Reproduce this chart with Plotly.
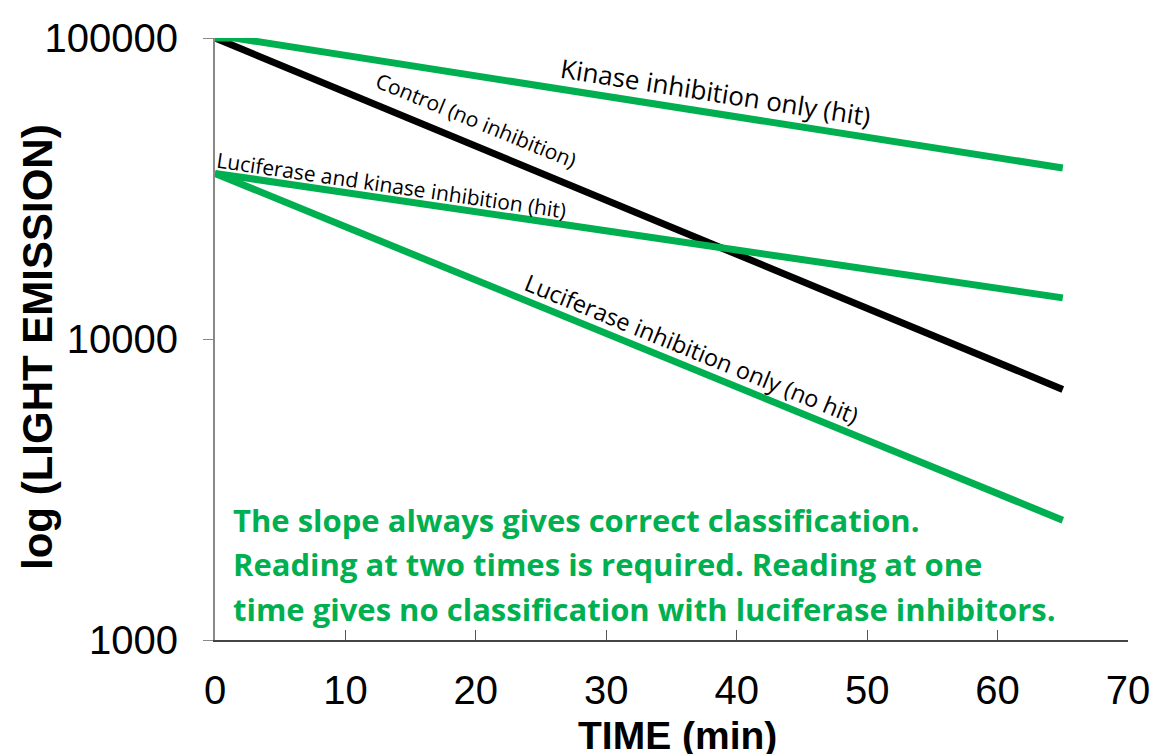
import plotly.graph_objects as go

# Data
time_control = [0, 65]
control = [100000, 6800]
time_kinase = [0, 1.5, 65]
kinase_only = [100000, 100000, 37000]
time_luc_kin = [0, 65]
luc_and_kinase = [35500, 13700]
time_luc = [0, 65]
luc_only = [35500, 2500]

x_ticks = [0, 10, 20, 30, 40, 50, 60, 70]
y_ticks = [1000, 10000, 100000]
y_tick_text = ["1000", "10000", "100000"]

GREEN = "#00B050"
fig = go.Figure()
fig.add_trace(go.Scatter(x=time_control, y=control, mode="lines",
                         line=dict(color="black", width=7)))
fig.add_trace(go.Scatter(x=time_kinase, y=kinase_only, mode="lines",
                         line=dict(color=GREEN, width=7)))
fig.add_trace(go.Scatter(x=time_luc_kin, y=luc_and_kinase, mode="lines",
                         line=dict(color=GREEN, width=7)))
fig.add_trace(go.Scatter(x=time_luc, y=luc_only, mode="lines",
                         line=dict(color=GREEN, width=7)))

lab_font = "Open Sans, Lato, sans-serif"
labels = [
    ("Kinase inhibition only (hit)", 38.4, 4.82, 8.9, 26),
    ("Control (no inhibition)", 20.0, 4.727, 22.4, 21),
    ("Luciferase and kinase inhibition (hit)", 13.5, 4.513, 8.3, 21),
    ("Luciferase inhibition only (no hit)", 36.6, 3.967, 22.2, 23.5),
]
for txt, x, y, ang, sz in labels:
    fig.add_annotation(x=x, y=y, xref="x", yref="y", text=txt, showarrow=False,
                       textangle=ang, font=dict(family=lab_font, size=sz, color="black"),
                       xanchor="center", yanchor="middle")

notes = [
    "The slope always gives correct classification.",
    "Reading at two times is required. Reading at one",
    "time gives no classification with luciferase inhibitors.",
]
for i, t in enumerate(notes):
    ly = 5 - (518 + 44.5 * i - 38) / 300
    fig.add_annotation(x=1.2, y=ly, xref="x", yref="y", text="<b>" + t + "</b>",
                       showarrow=False, xanchor="left", yanchor="middle",
                       font=dict(family=lab_font, size=31, color=GREEN))

axis_font = "Liberation Sans, Arial, sans-serif"
# axis titles as annotations (paper coords; plot area 913 x 602 px)
fig.add_annotation(x=(677 - 215) / 913, y=(640 - 735) / 602, xref="paper", yref="paper",
                   text="<b>TIME (min)</b>", showarrow=False, xanchor="center", yanchor="middle",
                   font=dict(family=axis_font, size=39, color="black"))
fig.add_annotation(x=(37 - 215) / 913, y=(640 - 347) / 602, xref="paper", yref="paper",
                   text="<b>log (LIGHT EMISSION)</b>", showarrow=False, textangle=-90,
                   xanchor="center", yanchor="middle",
                   font=dict(family=axis_font, size=42, color="black"))

fig.update_layout(
    width=1151, height=754,
    margin=dict(l=215, r=23, t=38, b=114),
    plot_bgcolor="white", paper_bgcolor="white",
    showlegend=False,
    xaxis=dict(range=[0, 70], tickvals=x_ticks, ticks="inside", ticklen=10,
               tickcolor="#555", showline=True, linecolor="#444", linewidth=2,
               showgrid=False, zeroline=False, mirror=False, automargin=False,
               tickfont=dict(family=axis_font, size=40, color="black"),
               ticklabelstandoff=14),
    yaxis=dict(type="log", range=[3, 5], tickvals=y_ticks, ticktext=y_tick_text,
               ticks="outside", ticklen=10, tickcolor="#888",
               showline=True, linecolor="#888", linewidth=2,
               showgrid=False, zeroline=False, automargin=False,
               tickfont=dict(family=axis_font, size=40, color="black"),
               ticklabelstandoff=17),
)
# remove the default 8px page margin so the figure fills the 1151x754 window exactly
fig.write_html("out.html", config={"displayModeBar": False},
               post_script="document.body.style.margin='0';document.body.style.overflow='hidden';")
